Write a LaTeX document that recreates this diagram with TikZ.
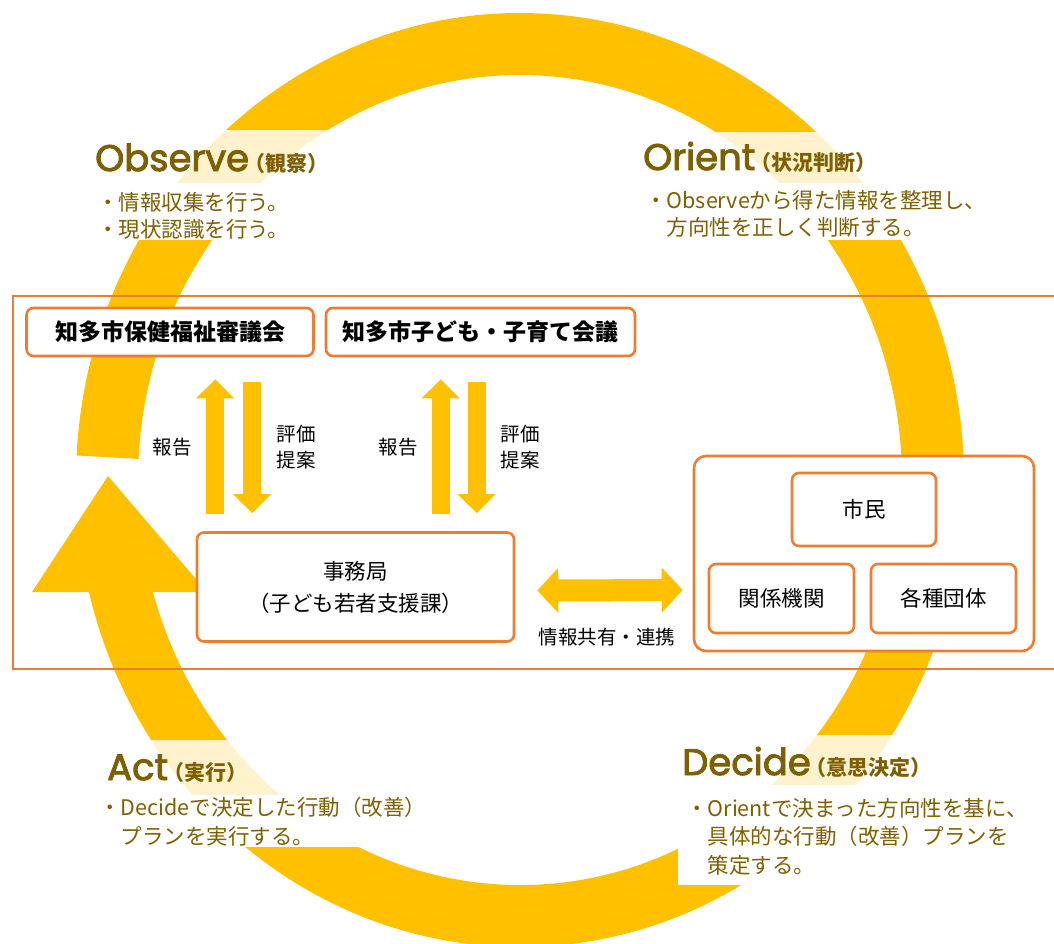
\documentclass[tikz,border=0pt]{standalone}
\usepackage{fontspec}
\setmainfont{Noto Sans CJK JP}
\newfontfamily\latinfont{Poppins}[FakeBold=2.5]
\usetikzlibrary{arrows.meta,positioning}

\definecolor{ringyellow}{HTML}{FFC000}
\definecolor{boxorange}{HTML}{ED7D31}
\definecolor{textbrown}{HTML}{7F6000}

\begin{document}
\begin{tikzpicture}[x=1pt,y=-1pt]
			\tikzstyle{Ring}	= [draw=ringyellow, line width=62pt]
			\tikzstyle{Shade}	= [fill=white, fill opacity=0.8]
			\tikzstyle{Blank}	= [fill=white]
			\tikzstyle{Frame}	= [draw=boxorange, line width=2.6pt]
			\tikzstyle{Box}		= [draw=boxorange, line width=2.6pt, fill=white, rounded corners=7pt, inner sep=0pt, text=black, align=center]
			\tikzstyle{Bold}	= [font=\bfseries\fontsize{23}{23}\selectfont]
			\tikzstyle{Plain}	= [font=\fontsize{21.5}{32}\selectfont]
			\tikzstyle{Head}	= [anchor=base west, inner sep=0pt, text=textbrown]
			\tikzstyle{Note}	= [anchor=base west, inner sep=0pt, text=textbrown, align=left]
			\tikzstyle{Small}	= [inner sep=0pt, text=black, align=center, font=\fontsize{19.5}{26}\selectfont]
			\tikzstyle{Up}		= [draw=ringyellow, line width=18pt, -{Triangle[width=37pt,length=19pt]}, shorten <=17pt, shorten >=22pt]
			\tikzstyle{Down}	= [draw=ringyellow, line width=18pt, -{Triangle[width=37pt,length=19pt]}, shorten <=25pt, shorten >=18pt]
			\tikzstyle{Both}	= [draw=ringyellow, line width=22pt, {Triangle[width=44pt,length=21pt]}-{Triangle[width=44pt,length=21pt]}]

			\clip (0,0) rectangle (1054,943);

			% the cycle
			\draw [Ring] (520,480) ++(183:413 and 436) arc [start angle=183, end angle=528, x radius=413, y radius=436];
			\fill [ringyellow] (108,476) -- (32,592) -- (207,592) -- cycle;

			% backgrounds of the four labels
			\fill [Shade] (55,130) rectangle (357,183);
			\fill [Shade] (617,132) rectangle (897,183);
			\fill [Shade] (55,740) rectangle (290,795);
			\fill [Shade] (660,735) rectangle (943,785);
			\fill [Blank] (95,183) rectangle (300,240);
			\fill [Blank] (645,183) rectangle (995,240);
			\fill [Blank] (100,795) rectangle (445,847);
			\fill [Blank] (678,785) rectangle (1054,885);

			\draw [Frame] (13,296) rectangle (1070,669);

			\node (council) at (170,332) [Box][Bold][minimum width=287pt, minimum height=48pt] {知多市保健福祉審議会};
			\node (meeting) at (480.5,332) [Box][Bold][minimum width=309pt, minimum height=48pt] {知多市子ども・子育て会議};
			\node (office) at (355.5,587) [Box][Plain][minimum width=317pt, minimum height=109pt] {事務局\\（子ども若者支援課）};
			\node (group) at (864,553.5) [Box][rounded corners=12pt][minimum width=340pt, minimum height=195pt] {};
			\node (citizen) at (864,509.5) [Box][Plain][minimum width=144pt, minimum height=73pt] {市民};
			\node (agency) at (781.5,598.5) [Box][Plain][minimum width=145pt, minimum height=69pt] {関係機関};
			\node (bodies) at (943.5,598.5) [Box][Plain][minimum width=145pt, minimum height=69pt] {各種団体};

			\draw [Up] ([xshift=19.5pt]office.north west) to ([xshift=19.5pt]office.north west |- council.south);
			\draw [Down] ([xshift=56.5pt]office.north west |- council.south) to ([xshift=56.5pt]office.north west);
			\draw [Up] ([xshift=245pt]office.north west) to ([xshift=245pt]office.north west |- meeting.south);
			\draw [Down] ([xshift=281pt]office.north west |- meeting.south) to ([xshift=281pt]office.north west);
			\draw [Both] ([xshift=22pt,yshift=-3.5pt]office.east) to ([xshift=-10pt,yshift=-36.5pt]group.west);

			\node (report1) at (172,447) [Small] {報告};
			\node (review1) at (296,447) [Small] {評価\\提案};
			\node (report2) at (398,447) [Small] {報告};
			\node (review2) at (520,447) [Small] {評価\\提案};
			\node (share) at (607,637) [Small] {情報共有・連携};

			% OODA labels
			\node (observe) at (95,171) [Head] {\latinfont\fontsize{37}{37}\selectfont Observe\rmfamily\bfseries\fontsize{21}{21}\selectfont\kern-5pt（観察）};
			\node (orient) at (643,170) [Head] {\latinfont\fontsize{37}{37}\selectfont Orient\rmfamily\bfseries\fontsize{21}{21}\selectfont\kern-5pt（状況判断）};
			\node (act) at (107,780) [Head] {\latinfont\fontsize{37}{37}\selectfont Act\rmfamily\bfseries\fontsize{21}{21}\selectfont\kern-5pt（実行）};
			\node (decide) at (682,775) [Head] {\latinfont\fontsize{37}{37}\selectfont Decide\rmfamily\bfseries\fontsize{21}{21}\selectfont\kern-5pt（意思決定）};

			% base is the last line
			\node (observenote) at (97,237) [Note][font=\fontsize{21.5}{27}\selectfont] {・情報収集を行う。\\・現状認識を行う。};
			\node (orientnote) at (645,235) [Note][font=\fontsize{21.5}{27}\selectfont] {・Observeから得た情報を整理し、\\\phantom{・}方向性を正しく判断する。};
			\node (actnote) at (99,844.5) [Note][font=\fontsize{21.5}{29.5}\selectfont] {・Decideで決定した行動（改善）\\\phantom{・}プランを実行する。};
			\node (decidenote) at (686,873) [Note][font=\fontsize{21.5}{28.5}\selectfont] {・Orientで決まった方向性を基に、\\\phantom{・}具体的な行動（改善）プランを\\\phantom{・}策定する。};
		\end{tikzpicture}
\end{document}
